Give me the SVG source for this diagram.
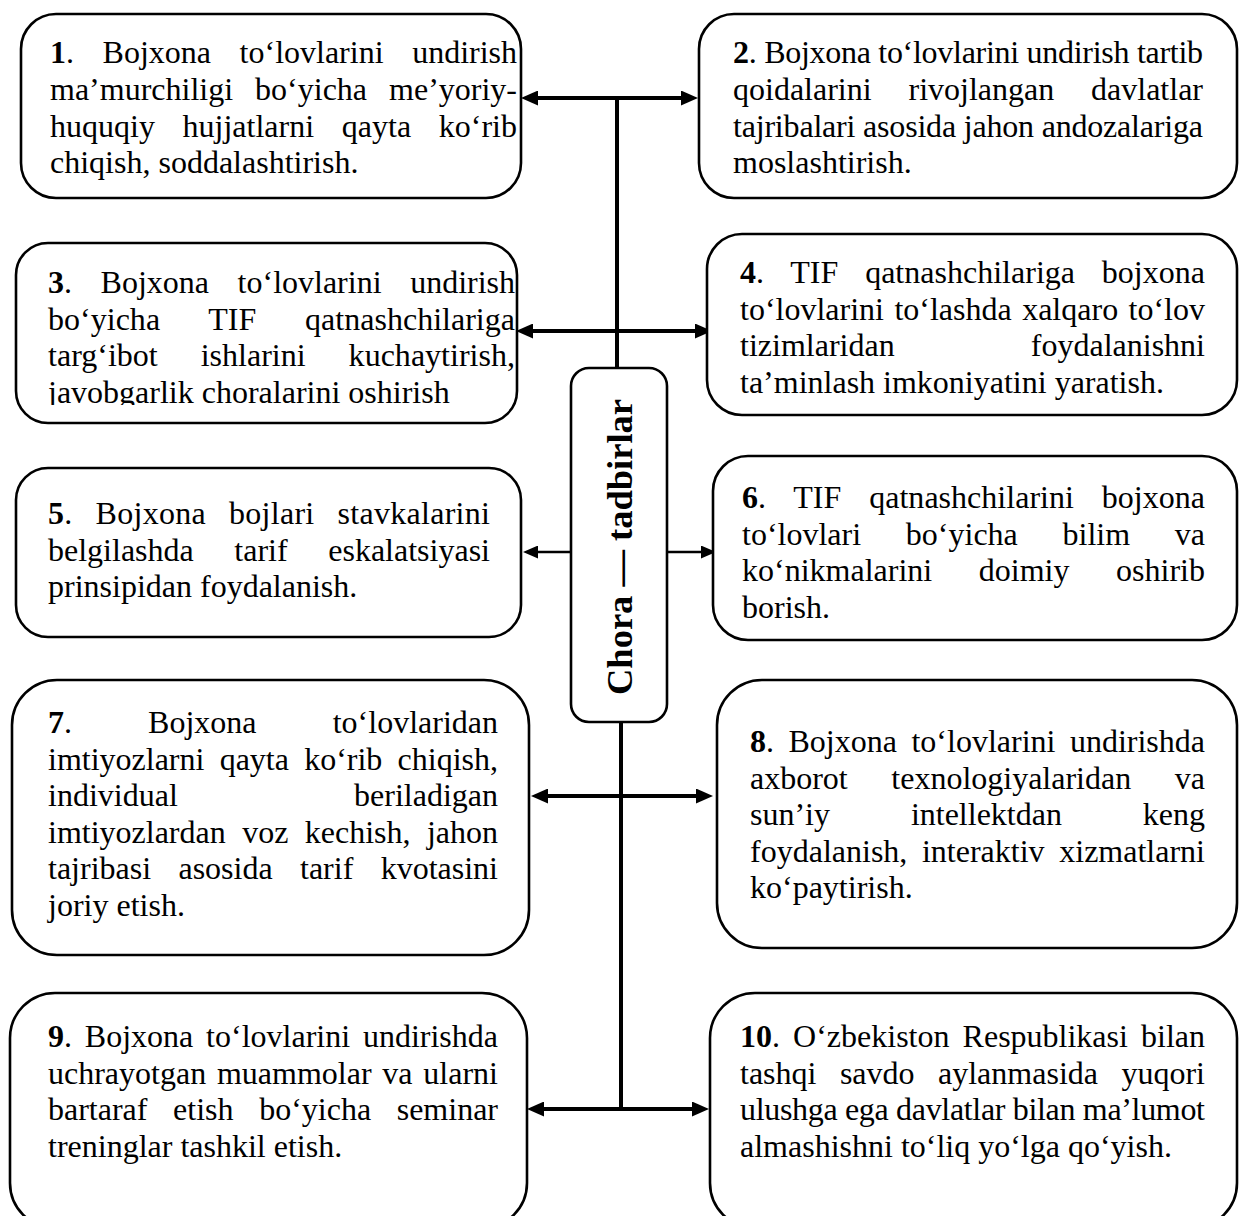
<svg xmlns="http://www.w3.org/2000/svg" width="1239" height="1216" viewBox="0 0 1239 1216">
<style>
.box{fill:#fff;stroke:#000;stroke-width:2.6}
.t{font-family:"Liberation Serif","Times New Roman",serif;font-size:32px;fill:#000}
.b{font-weight:bold}
.c{stroke:#000;stroke-width:4;fill:none}
.ct{stroke:#000;stroke-width:2.5;fill:none}
.title{font-family:"Liberation Serif","Times New Roman",serif;font-size:36.5px;font-weight:bold;fill:#000}
</style>
<defs>
<marker id="ah" markerUnits="userSpaceOnUse" markerWidth="17" markerHeight="15" viewBox="0 0 17 15" refX="8" refY="7.5" orient="auto-start-reverse"><path d="M0,0 L17,7.5 L0,15 z" fill="#000"/></marker>
<marker id="ahs" markerUnits="userSpaceOnUse" markerWidth="15" markerHeight="13" viewBox="0 0 15 13" refX="7" refY="6.5" orient="auto-start-reverse"><path d="M0,0 L15,6.5 L0,13 z" fill="#000"/></marker>
<clipPath id="clip3"><rect x="16" y="243" width="501" height="162"/></clipPath>
</defs>

<g id="connectors">
<line class="c" x1="617" y1="98" x2="617" y2="368"/>
<line class="c" x1="530" y1="98" x2="689" y2="98" marker-start="url(#ah)" marker-end="url(#ah)"/>
<line class="c" x1="525" y1="331" x2="703" y2="331" marker-start="url(#ah)" marker-end="url(#ah)"/>
<line class="ct" x1="571" y1="552" x2="531" y2="552" marker-end="url(#ahs)"/>
<line class="ct" x1="667" y1="552" x2="708" y2="552" marker-end="url(#ahs)"/>
<line class="c" x1="621" y1="722" x2="621" y2="1109"/>
<line class="c" x1="540" y1="796" x2="704" y2="796" marker-start="url(#ah)" marker-end="url(#ah)"/>
<line class="c" x1="536" y1="1109" x2="700" y2="1109" marker-start="url(#ah)" marker-end="url(#ah)"/>
</g>

<g id="center">
<rect class="box" x="571" y="368" width="96" height="354" rx="18"/>
<text class="title" transform="translate(632,547) rotate(-90)" text-anchor="middle">Chora — tadbirlar</text>
</g>

<g id="node1">
<rect class="box" x="21" y="14" width="500" height="184" rx="35"/>
<text class="t" x="50" y="63" textLength="467" lengthAdjust="spacing" word-spacing="20.6"><tspan class="b">1</tspan>. Bojxona to‘lovlarini undirish</text>
<text class="t" x="50" y="100" textLength="467" lengthAdjust="spacing" word-spacing="14">ma’murchiligi bo‘yicha me’yoriy-</text>
<text class="t" x="50" y="136.5" textLength="467" lengthAdjust="spacing" word-spacing="19.7">huquqiy hujjatlarni qayta ko‘rib</text>
<text class="t" x="50" y="173">chiqish, soddalashtirish.</text>
</g>

<g id="node2">
<rect class="box" x="699" y="14" width="538" height="184" rx="35"/>
<text class="t" x="733" y="63" textLength="470" lengthAdjust="spacing"><tspan class="b">2</tspan>. Bojxona to‘lovlarini undirish tartib</text>
<text class="t" x="733" y="100" textLength="470" lengthAdjust="spacing" word-spacing="28.8">qoidalarini rivojlangan davlatlar</text>
<text class="t" x="733" y="136.5" textLength="470" lengthAdjust="spacing">tajribalari asosida jahon andozalariga</text>
<text class="t" x="733" y="173">moslashtirish.</text>
</g>

<g id="node3">
<rect class="box" x="16" y="243" width="501" height="180" rx="32"/>
<g clip-path="url(#clip3)">
<text class="t" x="48" y="293" textLength="467" lengthAdjust="spacing" word-spacing="20.6"><tspan class="b">3</tspan>. Bojxona to‘lovlarini undirish</text>
<text class="t" x="48" y="329.5" textLength="467" lengthAdjust="spacing" word-spacing="40.7">bo‘yicha TIF qatnashchilariga</text>
<text class="t" x="48" y="366" textLength="467" lengthAdjust="spacing" word-spacing="34.9">targ‘ibot ishlarini kuchaytirish,</text>
<text class="t" x="48" y="402.5">javobgarlik choralarini oshirish</text>
</g>
</g>

<g id="node4">
<rect class="box" x="707" y="234" width="530" height="181" rx="35"/>
<text class="t" x="740" y="283" textLength="465" lengthAdjust="spacing" word-spacing="18.8"><tspan class="b">4</tspan>. TIF qatnashchilariga bojxona</text>
<text class="t" x="740" y="319.5" textLength="465" lengthAdjust="spacing" word-spacing="2.4">to‘lovlarini to‘lashda xalqaro to‘lov</text>
<text class="t" x="740" y="356" textLength="465" lengthAdjust="spacing" word-spacing="128.1">tizimlaridan foydalanishni</text>
<text class="t" x="740" y="392.5">ta’minlash imkoniyatini yaratish.</text>
</g>

<g id="node5">
<rect class="box" x="16" y="468" width="505" height="169" rx="32"/>
<text class="t" x="48" y="524" textLength="442" lengthAdjust="spacing" word-spacing="14.6"><tspan class="b">5</tspan>. Bojxona bojlari stavkalarini</text>
<text class="t" x="48" y="560.5" textLength="442" lengthAdjust="spacing" word-spacing="32.6">belgilashda tarif eskalatsiyasi</text>
<text class="t" x="48" y="597">prinsipidan foydalanish.</text>
</g>

<g id="node6">
<rect class="box" x="713" y="456" width="524" height="184" rx="35"/>
<text class="t" x="742" y="508" textLength="463" lengthAdjust="spacing" word-spacing="19.8"><tspan class="b">6</tspan>. TIF qatnashchilarini bojxona</text>
<text class="t" x="742" y="544.5" textLength="463" lengthAdjust="spacing" word-spacing="36.7">to‘lovlari bo‘yicha bilim va</text>
<text class="t" x="742" y="581" textLength="463" lengthAdjust="spacing" word-spacing="38.6">ko‘nikmalarini doimiy oshirib</text>
<text class="t" x="742" y="617.5">borish.</text>
</g>

<g id="node7">
<rect class="box" x="12" y="680" width="517" height="275" rx="45"/>
<text class="t" x="48" y="733" textLength="450" lengthAdjust="spacing" word-spacing="68.1"><tspan class="b">7</tspan>. Bojxona to‘lovlaridan</text>
<text class="t" x="48" y="769.5" textLength="450" lengthAdjust="spacing" word-spacing="7.2">imtiyozlarni qayta ko‘rib chiqish,</text>
<text class="t" x="48" y="806" textLength="450" lengthAdjust="spacing" word-spacing="168.2">individual beriladigan</text>
<text class="t" x="48" y="842.5" textLength="450" lengthAdjust="spacing" word-spacing="8.4">imtiyozlardan voz kechish, jahon</text>
<text class="t" x="48" y="879" textLength="450" lengthAdjust="spacing" word-spacing="19.4">tajribasi asosida tarif kvotasini</text>
<text class="t" x="48" y="915.5">joriy etish.</text>
</g>

<g id="node8">
<rect class="box" x="717" y="680" width="520" height="268" rx="45"/>
<text class="t" x="750" y="752" textLength="455" lengthAdjust="spacing" word-spacing="6.5"><tspan class="b">8</tspan>. Bojxona to‘lovlarini undirishda</text>
<text class="t" x="750" y="788.5" textLength="455" lengthAdjust="spacing" word-spacing="35.6">axborot texnologiyalaridan va</text>
<text class="t" x="750" y="825" textLength="455" lengthAdjust="spacing" word-spacing="72.9">sun’iy intellektdan keng</text>
<text class="t" x="750" y="861.5" textLength="455" lengthAdjust="spacing" word-spacing="6.6">foydalanish, interaktiv xizmatlarni</text>
<text class="t" x="750" y="898">ko‘paytirish.</text>
</g>

<g id="node9">
<rect class="box" x="10" y="993" width="517" height="235" rx="45"/>
<text class="t" x="48" y="1047" textLength="450" lengthAdjust="spacing" word-spacing="4.8"><tspan class="b">9</tspan>. Bojxona to‘lovlarini undirishda</text>
<text class="t" x="48" y="1083.5" textLength="450" lengthAdjust="spacing" word-spacing="2.8">uchrayotgan muammolar va ularni</text>
<text class="t" x="48" y="1120" textLength="450" lengthAdjust="spacing" word-spacing="17.6">bartaraf etish bo‘yicha seminar</text>
<text class="t" x="48" y="1156.5">treninglar tashkil etish.</text>
</g>

<g id="node10">
<rect class="box" x="710" y="993" width="527" height="235" rx="45"/>
<text class="t" x="740" y="1047" textLength="465" lengthAdjust="spacing" word-spacing="5.1"><tspan class="b">10</tspan>. O‘zbekiston Respublikasi bilan</text>
<text class="t" x="740" y="1083.5" textLength="465" lengthAdjust="spacing" word-spacing="15.4">tashqi savdo aylanmasida yuqori</text>
<text class="t" x="740" y="1120" textLength="465" lengthAdjust="spacing">ulushga ega davlatlar bilan ma’lumot</text>
<text class="t" x="740" y="1156.5">almashishni to‘liq yo‘lga qo‘yish.</text>
</g>
</svg>
